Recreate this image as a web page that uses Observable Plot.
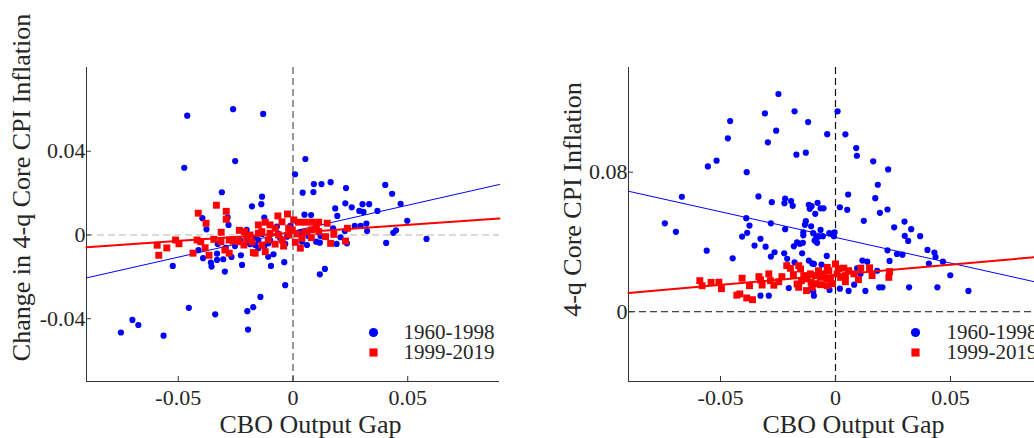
<!DOCTYPE html>
<html><head><meta charset="utf-8">
<script src="https://cdn.jsdelivr.net/npm/d3@7"></script>
<script src="https://cdn.jsdelivr.net/npm/@observablehq/plot@0.6"></script>
<style>
html,body{margin:0;padding:0;background:#fff;overflow:hidden;width:1034px;height:438px}
#wrap{position:relative;width:1060px;height:438px}
#p1,#p2{position:absolute;top:0}
#p1{left:0}#p2{left:520px}
</style></head><body>
<div id="wrap"><div id="p1"></div><div id="p2"></div></div>
<script>
// ---- shared scales / labels ----
const xDomain = [-0.09, 0.09];
const xTicks = [-0.05, 0, 0.05];
const xLabel = "CBO Output Gap";
const seriesLabels = ["1960-1998", "1999-2019"];

// ---- left panel: change in 4-q core CPI inflation ----
const changeYDomain = [-0.07, 0.08];
const changeYTicks = [-0.04, 0, 0.04];
const changeYLabel = "Change in 4-q Core CPI Inflation";
const changeBlueX = [-0.0461,-0.0261,-0.0130,-0.0474,-0.0252,0.0054,0.0009,-0.0310,-0.0135,-0.0179,-0.0138,0.0091,0.0042,0.0089,0.0124,0.0164,0.0231,0.0402,0.0432,0.0469,0.0228,0.0184,0.0256,0.0303,0.0332,0.0289,0.0307,0.0368,0.0193,0.0050,0.0079,0.0498,0.0320,0.0323,0.0295,0.0269,0.0449,0.0437,0.0582,0.0406,0.0175,0.0207,0.0226,0.0190,0.0235,0.0117,0.0101,-0.0038,-0.0034,0.0139,0.0117,-0.0395,-0.0285,-0.0377,-0.0281,-0.0524,-0.0392,-0.0358,-0.0355,-0.0331,-0.0331,-0.0304,-0.0297,-0.0268,-0.0227,-0.0222,-0.0412,-0.0187,-0.0165,-0.0151,-0.0202,-0.0750,-0.0700,-0.0674,-0.0564,-0.0454,-0.0339,-0.0199,-0.0173,-0.0142,-0.0196,-0.0096,-0.0108,-0.0085,-0.0125,-0.0070,0.0039,0.0061,-0.0107,-0.0200,-0.0165,-0.0135,-0.0100,-0.0056,-0.0034,-0.0012,0.0019,0.0032,0.0067,-0.0231,-0.0253,-0.0293,-0.0328,-0.0151,-0.0126,-0.0066,-0.0026,0.0120];
const changeBlueY = [0.0570,0.0601,0.0578,0.0321,0.0353,0.0363,0.0290,0.0204,0.0183,0.0137,0.0147,0.0243,0.0202,0.0205,0.0243,0.0252,0.0224,0.0239,0.0197,0.0149,0.0151,0.0127,0.0132,0.0147,0.0147,0.0115,0.0110,0.0115,0.0091,0.0097,0.0095,0.0068,0.0054,0.0019,0.0043,0.0043,0.0022,0.0010,-0.0019,-0.0038,0.0032,-0.0011,0.0019,-0.0043,-0.0040,-0.0037,-0.0032,-0.0130,-0.0240,-0.0162,-0.0188,0.0080,0.0084,0.0027,0.0048,-0.0148,-0.0111,-0.0132,-0.0151,-0.0089,-0.0119,-0.0116,-0.0175,-0.0105,-0.0097,-0.0143,-0.0072,-0.0044,-0.0048,-0.0063,0.0024,-0.0466,-0.0406,-0.0430,-0.0481,-0.0348,-0.0379,-0.0364,-0.0345,-0.0296,-0.0452,-0.0148,-0.0104,-0.0092,0.0083,0.0040,-0.0032,-0.0048,-0.0040,-0.0005,-0.0014,0.0005,-0.0024,-0.0014,-0.0043,0.0043,0.0062,0.0014,-0.0005,-0.0024,-0.0053,-0.0062,-0.0043,-0.0024,-0.0056,0.0008,-0.0008,-0.0005];
const changeRedX = [-0.0334,-0.0413,-0.0291,-0.0291,-0.0379,-0.0313,-0.0234,-0.0211,-0.0512,-0.0497,-0.0592,-0.0550,-0.0585,-0.0418,-0.0402,-0.0345,-0.0314,-0.0278,-0.0261,-0.0383,-0.0436,-0.0366,-0.0297,-0.0278,-0.0236,-0.0202,-0.0173,-0.0187,-0.0151,-0.0024,-0.0066,-0.0121,-0.0151,-0.0100,-0.0048,0.0003,0.0025,0.0054,0.0083,0.0112,0.0149,0.0178,0.0237,0.0229,0.0164,0.0142,0.0112,0.0080,0.0080,0.0032,0.0010,0.0039,-0.0041,-0.0078,-0.0136,-0.0121,-0.0165,-0.0136,-0.0100,-0.0063,-0.0019,-0.0019,-0.0078,-0.0003,0.0019,-0.0047,-0.0108,-0.0179,-0.0214,0.0054,0.0102];
const changeRedY = [0.0142,0.0104,0.0113,0.0075,0.0056,0.0013,0.0022,0.0016,-0.0024,-0.0042,-0.0049,-0.0062,-0.0097,-0.0024,-0.0032,-0.0021,-0.0032,-0.0024,-0.0029,-0.0061,-0.0087,-0.0097,-0.0072,-0.0087,-0.0032,-0.0016,-0.0084,0.0000,0.0008,0.0100,0.0091,0.0061,0.0048,0.0048,0.0063,0.0072,0.0061,0.0061,0.0061,0.0061,0.0056,0.0003,0.0032,-0.0029,-0.0040,-0.0008,0.0016,0.0024,-0.0013,-0.0063,-0.0035,-0.0016,-0.0053,-0.0044,-0.0048,-0.0080,-0.0087,0.0016,0.0008,0.0000,0.0000,0.0032,0.0032,0.0024,0.0005,-0.0024,-0.0024,-0.0033,-0.0048,0.0014,0.0043];
const changeBlueFit = [0.0018, 0.248];   // intercept, slope
const changeRedFit = [0.0010, 0.0768];

// ---- right panel: 4-q core CPI inflation ----
const levelYDomain = [-0.04, 0.14];
const levelYTicks = [0, 0.08];
const levelYLabel = "4-q Core CPI Inflation";
const levelBlueX = [-0.0248,-0.0307,-0.0178,0.0009,-0.0458,-0.0258,-0.0119,-0.0468,-0.0294,-0.0036,0.0043,-0.0170,-0.0129,-0.0517,-0.0555,-0.0386,0.0090,0.0093,-0.0668,-0.0335,-0.0277,-0.0219,-0.0222,-0.0193,-0.0186,-0.0116,-0.0112,-0.0104,-0.0078,-0.0065,-0.0052,0.0055,0.0019,0.0051,-0.0088,-0.0742,-0.0694,-0.0388,-0.0374,-0.0281,-0.0219,-0.0129,-0.0133,-0.0106,-0.0065,-0.0140,-0.0140,-0.0097,-0.0083,-0.0073,-0.0055,-0.0091,-0.0080,-0.0027,-0.0004,-0.0007,-0.0406,-0.0384,-0.0326,-0.0352,-0.0304,-0.0167,-0.0155,-0.0142,-0.0181,-0.0560,-0.0447,-0.0265,-0.0281,-0.0223,-0.0145,-0.0210,-0.0178,-0.0116,-0.0101,-0.0038,-0.0061,0.0094,0.0164,0.0229,0.0184,0.0173,0.0226,0.0193,0.0123,0.0300,0.0255,0.0329,0.0301,0.0316,0.0368,0.0226,0.0267,0.0291,0.0235,0.0400,0.0430,0.0435,0.0406,0.0467,0.0499,0.0443,0.0320,0.0190,0.0204,0.0578,0.0130,0.0057,0.0019,-0.0026,0.0081,0.0117,0.0138,-0.0065,-0.0203,-0.0097,-0.0094,-0.0114,0.0181,0.0109,0.0083,-0.0014,-0.0094,-0.0326,-0.0290,-0.0109];
const levelBlueY = [0.1248,0.1137,0.1149,0.1149,0.1093,0.1038,0.1087,0.0994,0.0971,0.1018,0.1017,0.0900,0.0912,0.0866,0.0833,0.0800,0.0938,0.0894,0.0659,0.0661,0.0628,0.0649,0.0622,0.0634,0.0607,0.0613,0.0590,0.0605,0.0624,0.0593,0.0593,0.0672,0.0599,0.0584,0.0561,0.0507,0.0458,0.0536,0.0494,0.0507,0.0473,0.0519,0.0498,0.0490,0.0469,0.0455,0.0438,0.0450,0.0427,0.0431,0.0433,0.0408,0.0395,0.0450,0.0455,0.0433,0.0431,0.0452,0.0418,0.0379,0.0373,0.0398,0.0389,0.0395,0.0375,0.0350,0.0306,0.0341,0.0316,0.0335,0.0335,0.0303,0.0283,0.0293,0.0277,0.0320,0.0270,0.0249,0.0862,0.0816,0.0728,0.0651,0.0586,0.0567,0.0521,0.0517,0.0484,0.0473,0.0435,0.0406,0.0433,0.0352,0.0331,0.0327,0.0291,0.0354,0.0339,0.0314,0.0276,0.0287,0.0209,0.0140,0.0140,0.0140,0.0140,0.0119,0.0119,0.0119,0.0132,0.0125,0.0155,0.0293,0.0287,0.0201,0.0136,0.0117,0.0092,0.0209,0.0235,0.0217,0.0217,0.0446,0.0274,0.0092,0.0092,0.0130];
const levelRedX = [-0.0590,-0.0580,-0.0541,-0.0507,-0.0496,-0.0429,-0.0416,-0.0386,-0.0361,-0.0406,-0.0374,-0.0333,-0.0326,-0.0319,-0.0290,-0.0283,-0.0268,-0.0247,-0.0233,-0.0212,-0.0196,-0.0160,-0.0152,-0.0138,-0.0123,-0.0109,-0.0087,-0.0065,-0.0036,-0.0036,-0.0160,-0.0126,-0.0167,-0.0106,0.0000,0.0036,0.0080,0.0110,0.0148,0.0159,0.0235,0.0232,0.0022,-0.0029,0.0007,0.0043,-0.0022,-0.0036,-0.0051,-0.0101,-0.0074,-0.0013,-0.0065,0.0043,0.0100,-0.0148,0.0013,0.0057,-0.0087,-0.0183];
const levelRedY = [0.0178,0.0149,0.0168,0.0169,0.0132,0.0095,0.0102,0.0079,0.0069,0.0192,0.0149,0.0201,0.0182,0.0153,0.0217,0.0178,0.0152,0.0172,0.0201,0.0264,0.0249,0.0264,0.0245,0.0207,0.0188,0.0217,0.0207,0.0197,0.0254,0.0188,0.0140,0.0121,0.0159,0.0168,0.0274,0.0250,0.0217,0.0250,0.0252,0.0207,0.0230,0.0197,0.0197,0.0235,0.0217,0.0207,0.0188,0.0149,0.0217,0.0140,0.0235,0.0161,0.0155,0.0172,0.0184,0.0178,0.0247,0.0235,0.0161,0.0213];
const levelBlueFit = [0.0426, -0.294];
const levelRedFit = [0.0212, 0.116];

// ---- styling ----
const fontFamily = '"Liberation Serif", "Times New Roman", serif';
const textColor = "#262626";
const axisColor = "#333333";
const blueColor = "#0000ff";
const redColor = "#ff0000";
const fmt = d => d === 0 ? "0" : String(d);

function panel(o) {
  const height = 438, marginTop = 67, marginBottom = 57;
  const fw = o.width - o.marginLeft - o.marginRight;
  const fh = height - marginTop - marginBottom;
  const blue = o.blueX.map((x, i) => ({x, y: o.blueY[i]}));
  const red = o.redX.map((x, i) => ({x, y: o.redY[i]}));
  const fitLine = ([a, b]) => xDomain.map(x => ({x, y: a + b * x}));
  return Plot.plot({
    width: o.width, height, marginLeft: o.marginLeft, marginRight: o.marginRight, marginTop, marginBottom,
    style: {fontFamily, fontSize: "22px", color: textColor, background: "white", overflow: "visible"},
    x: {domain: xDomain, ticks: xTicks, tickSize: 0, tickPadding: 8, tickFormat: fmt, label: null},
    y: {domain: o.yDomain, ticks: o.yTicks, tickSize: 0, tickPadding: 1, tickFormat: fmt, label: null},
    marks: [
      Plot.ruleY([0], {stroke: o.hZero, strokeWidth: 1, strokeDasharray: "7,4"}),
      Plot.ruleX([0], {stroke: o.vZero, strokeWidth: 1.2, strokeDasharray: "7,4"}),
      Plot.ruleX([xDomain[0]], {stroke: axisColor}),
      Plot.ruleY([o.yDomain[0]], {stroke: axisColor}),
      Plot.ruleX(xTicks, {x: d => d, insetTop: fh - 5, stroke: axisColor}),
      Plot.ruleY(o.yTicks, {y: d => d, insetRight: fw - 5, stroke: axisColor}),
      Plot.dot(blue, {x: "x", y: "y", r: 3.1, fill: blueColor}),
      Plot.line(fitLine(o.blueFit), {x: "x", y: "y", stroke: blueColor, strokeWidth: 1}),
      Plot.dot(red, {x: "x", y: "y", r: 3.9, symbol: "square", fill: redColor}),
      Plot.line(fitLine(o.redFit), {x: "x", y: "y", stroke: redColor, strokeWidth: 2}),
      // legend
      Plot.dot([seriesLabels[0]], {frameAnchor: "bottom-right", dx: o.legDx, dy: -49, r: 4.6, fill: blueColor}),
      Plot.dot([seriesLabels[1]], {frameAnchor: "bottom-right", dx: o.legDx, dy: -29, r: 4.6, symbol: "square", fill: redColor}),
      Plot.text([seriesLabels[0]], {frameAnchor: "bottom-right", dx: o.legTextDx, dy: -49, textAnchor: "start", lineAnchor: "middle", fontSize: 21, fill: textColor}),
      Plot.text([seriesLabels[1]], {frameAnchor: "bottom-right", dx: o.legTextDx, dy: -29, textAnchor: "start", lineAnchor: "middle", fontSize: 21, fill: textColor}),
      // axis labels
      Plot.text([xLabel], {frameAnchor: "bottom", dx: o.xLabelDx, dy: 43, textAnchor: "middle", lineAnchor: "middle", fontSize: 26, fill: textColor}),
      Plot.text([o.yLabel], {frameAnchor: "left", rotate: -90, dx: o.yLabelDx, dy: o.yLabelDy, textAnchor: "middle", lineAnchor: "middle", fontSize: 26, fill: textColor})
    ]
  });
}

document.getElementById("p1").appendChild(panel({
  width: 520, marginLeft: 86, marginRight: 21,
  blueX: changeBlueX, blueY: changeBlueY, redX: changeRedX, redY: changeRedY,
  blueFit: changeBlueFit, redFit: changeRedFit,
  yDomain: changeYDomain, yTicks: changeYTicks, yLabel: changeYLabel,
  hZero: "#b5b5b5", vZero: "#555555",
  legDx: -126, legTextDx: -96, xLabelDx: 17.5, yLabelDx: -65, yLabelDy: -37
}));
document.getElementById("p2").appendChild(panel({
  width: 540, marginLeft: 108, marginRight: 18,
  blueX: levelBlueX, blueY: levelBlueY, redX: levelRedX, redY: levelRedY,
  blueFit: levelBlueFit, redFit: levelRedFit,
  yDomain: levelYDomain, yTicks: levelYTicks, yLabel: levelYLabel,
  hZero: "#111111", vZero: "#111111",
  legDx: -127, legTextDx: -96, xLabelDx: 18, yLabelDx: -56, yLabelDy: -25
}));
</script>
</body></html>
